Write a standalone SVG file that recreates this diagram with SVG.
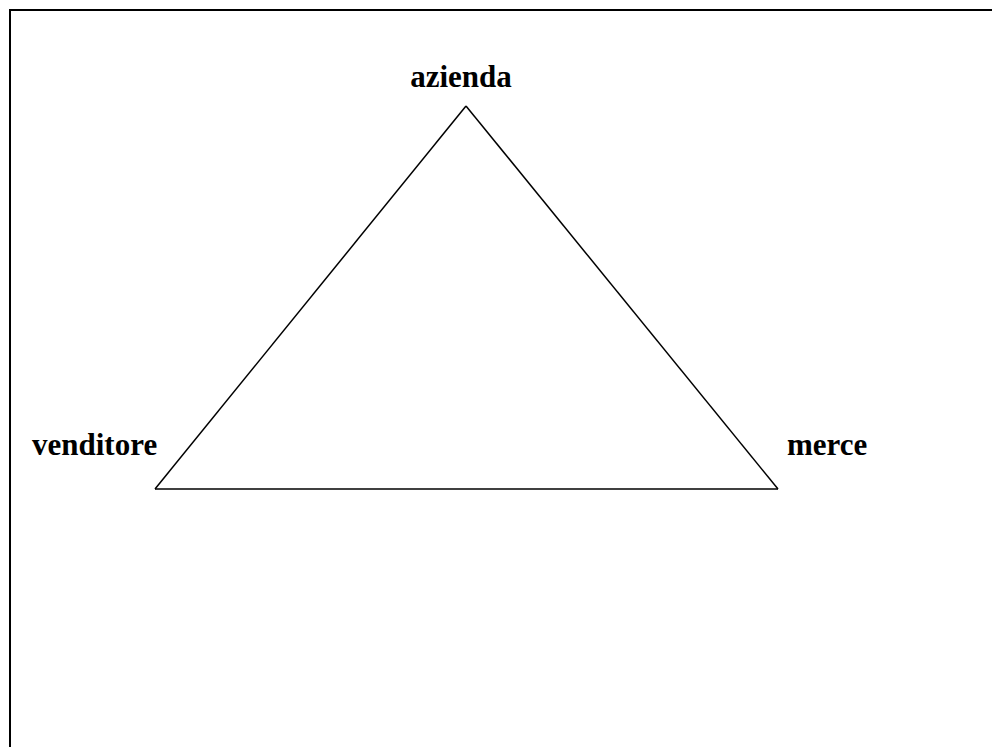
<svg xmlns="http://www.w3.org/2000/svg" width="992" height="747" viewBox="0 0 992 747">
<style>
.lbl{font-family:"Liberation Serif","Times New Roman",serif;font-weight:bold;font-size:31px;fill:#000}
.edge{stroke:#000;stroke-width:1.5;fill:none}
</style>
<rect x="0" y="0" width="992" height="747" fill="#fff"/>
<rect id="frame" x="10" y="10" width="1100" height="900" fill="none" stroke="#000" stroke-width="2"/>
<g id="connectors">
<line class="edge" x1="466" y1="106" x2="155" y2="489"/>
<line class="edge" x1="466" y1="106" x2="778" y2="489"/>
<line class="edge" x1="155" y1="489" x2="778" y2="489"/>
</g>
<g id="azienda"><text class="lbl" x="461" y="87" text-anchor="middle">azienda</text></g>
<g id="venditore"><text class="lbl" x="32" y="455">venditore</text></g>
<g id="merce"><text class="lbl" x="787" y="455">merce</text></g>
</svg>
